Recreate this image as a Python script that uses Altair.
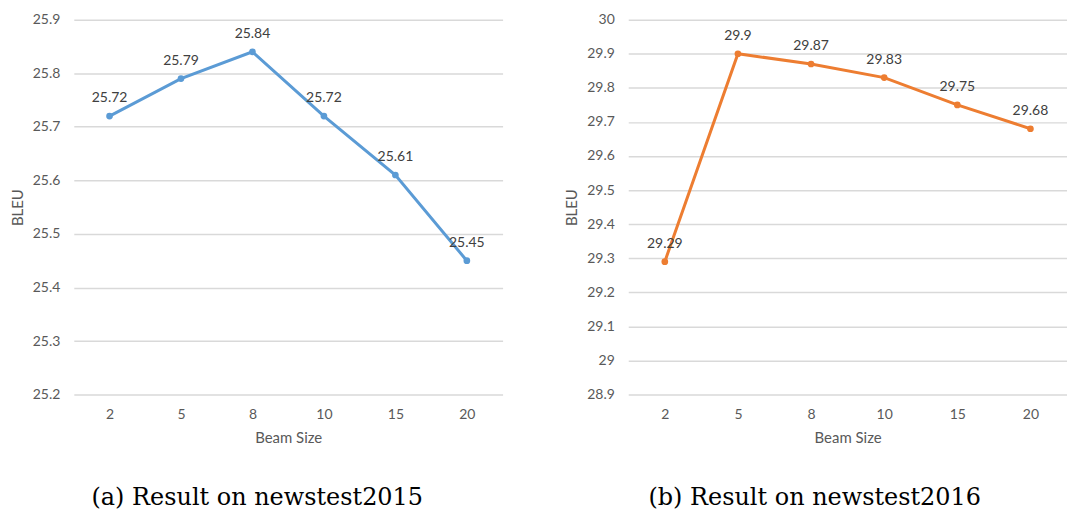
import altair as alt
import pandas as pd

beam_sizes = ["2", "5", "8", "10", "15", "20"]
bleu_2015 = [25.72, 25.79, 25.84, 25.72, 25.61, 25.45]
bleu_2016 = [29.29, 29.9, 29.87, 29.83, 29.75, 29.68]
ticks_2015 = [25.2, 25.3, 25.4, 25.5, 25.6, 25.7, 25.8, 25.9]
ticks_2016 = [28.9, 29.0, 29.1, 29.2, 29.3, 29.4, 29.5, 29.6, 29.7, 29.8, 29.9, 30.0]

FONT = "Lato"


def panel(values, ticks, color, width, caption, cap_dx):
    df = pd.DataFrame({"beam": beam_sizes, "bleu": values,
                       "label": [("%g" % v) for v in values]})
    x = alt.X("beam:O", sort=beam_sizes, title="Beam Size",
              scale=alt.Scale(type="point", padding=0.5),
              axis=alt.Axis(labelAngle=0, domain=False, ticks=False, grid=False,
                            labelPadding=13, titlePadding=9))
    y = alt.Y("bleu:Q", title="BLEU",
              scale=alt.Scale(domain=[ticks[0], ticks[-1]], nice=False, zero=False),
              axis=alt.Axis(values=ticks, format="~g", domain=False, ticks=False,
                            labelPadding=14, titlePadding=7, grid=True))
    base = alt.Chart(df).encode(x=x, y=y)
    line = base.mark_line(color=color, strokeWidth=3)
    pts = base.mark_point(color=color, filled=True, size=45, opacity=1)
    txt = base.mark_text(dy=-18, fontSize=14, font=FONT, color="#404040").encode(text="label:N")
    return alt.layer(line, pts, txt).properties(
        width=width, height=376,
        title=alt.TitleParams(caption, orient="bottom", anchor="middle", font="DejaVu Serif",
                              fontSize=24, fontWeight="normal", color="#000000", offset=41, dx=cap_dx)
    )


left = panel(bleu_2015, ticks_2015, "#5B9BD5", 430, "(a) Result on newstest2015", -31)
right = panel(bleu_2016, ticks_2016, "#ED7D31", 440, "(b) Result on newstest2016", -33)

chart = alt.hconcat(left, right, spacing=62).properties(
    padding={"left": 10, "top": 12, "right": 0, "bottom": 0}
).configure_view(stroke=None).configure_axis(
    labelFont=FONT, titleFont=FONT, labelFontSize=14, titleFontSize=15,
    labelColor="#595959", titleColor="#595959", titleFontWeight="normal",
    gridColor="#D9D9D9", gridWidth=1.5
)

chart.save("out.html", embed_options={"renderer": "svg", "actions": False})
